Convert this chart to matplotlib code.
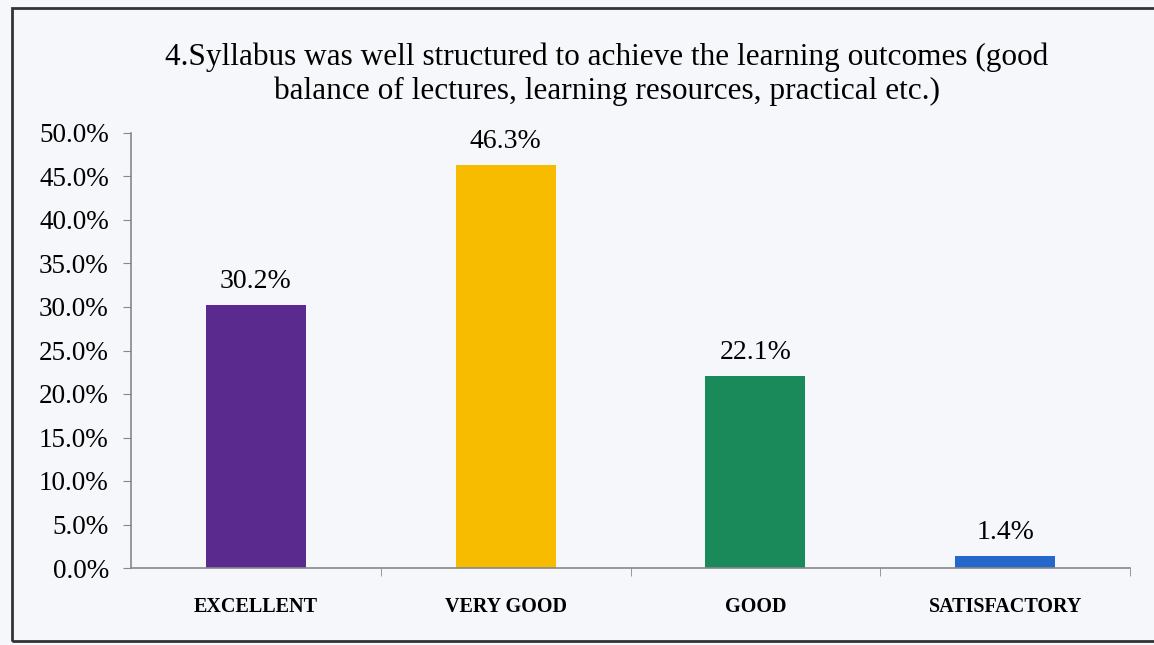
import matplotlib.pyplot as plt
from matplotlib.patches import Rectangle

categorias = ["EXCELLENT", "VERY GOOD", "GOOD", "SATISFACTORY"]
valores = [30.2, 46.3, 22.1, 1.4]
colores = ["#5A2A8E", "#F7BC00", "#1B8A5A", "#2468CC"]
titulo = ("4.Syllabus was well structured to achieve the learning outcomes (good\n"
          "balance of lectures, learning resources, practical etc.)")

plt.rcParams['font.family'] = ['Liberation Serif', 'DejaVu Serif']

fig = plt.figure(figsize=(11.54, 6.45), dpi=100)
fig.patch.set_facecolor("#F5F7FA")
# marco de la figura escaneada
fig.patches.append(Rectangle((12/1154, 4/645), 1.2, 633/645, transform=fig.transFigure,
                             fill=False, edgecolor="#333333", linewidth=2))

ax = fig.add_axes([131/1154, 1 - 568/645, (1130 - 131)/1154, (568 - 133)/645])
ax.set_facecolor("none")

x = list(range(len(categorias)))
barras = ax.bar(x, valores, width=0.4, color=colores)

for xi, v in zip(x, valores):
    ax.annotate("%.1f%%" % v, (xi, v), xytext=(0, 8), textcoords="offset points",
                ha="center", va="bottom", fontsize=20)

ax.set_xlim(-0.5, 3.5)
ax.set_ylim(0, 50)
ax.set_yticks([i * 5 for i in range(11)])
ax.set_yticklabels(["%.1f%%" % (i * 5) for i in range(11)], fontsize=19.5)
ax.set_xticks(x)
ax.set_xticklabels(categorias, fontsize=14.5, fontweight="bold")
ax.tick_params(axis="x", length=0, pad=21)
ax.tick_params(axis="y", length=6, color="#888888", pad=10)
ax.set_xticks([0.5, 1.5, 2.5, 3.5], minor=True)
ax.tick_params(axis="x", which="minor", length=6, color="#888888", direction="out")

for s in ["top", "right"]:
    ax.spines[s].set_visible(False)
for s in ["left", "bottom"]:
    ax.spines[s].set_color("#888888")
    ax.spines[s].set_linewidth(1.2)

fig.text(607/1154, 1 - 74/645, titulo, ha="center", va="center", fontsize=22.5,
         linespacing=1.2)

plt.savefig("out.png", dpi=100, facecolor=fig.get_facecolor())
